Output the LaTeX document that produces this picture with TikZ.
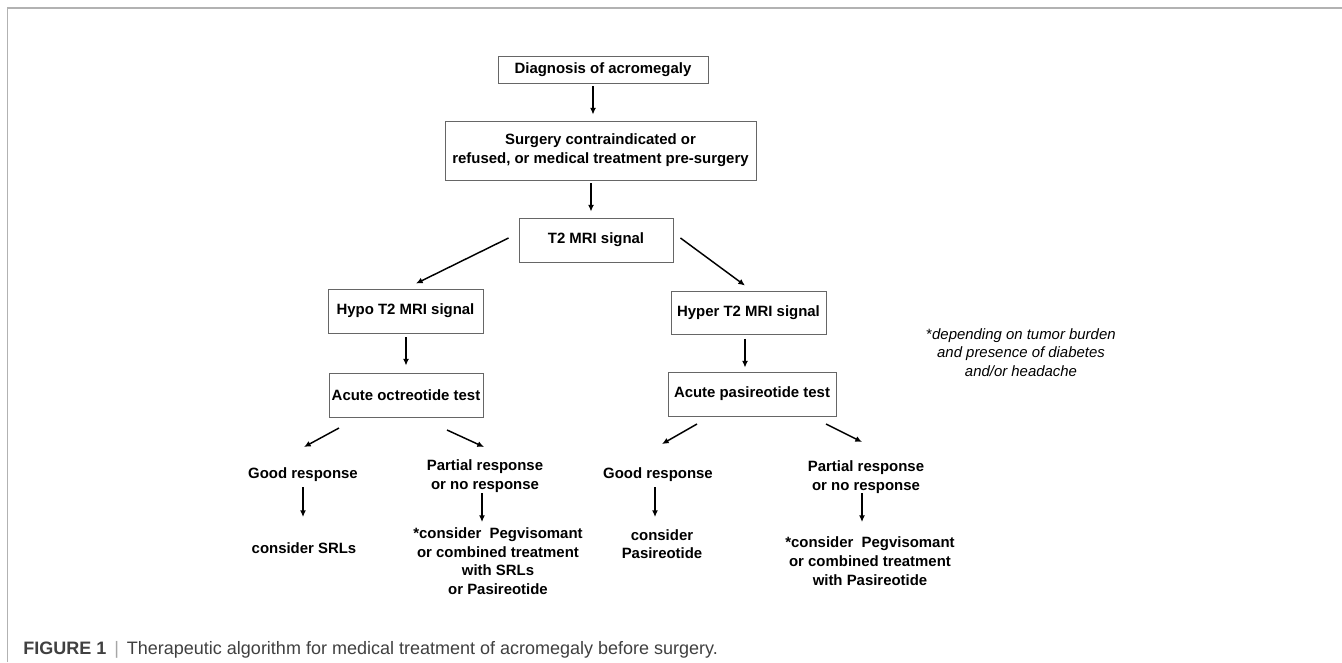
\documentclass[tikz,border=0pt]{standalone}
\usepackage{fontspec}
\setmainfont{Liberation Sans}
\usetikzlibrary{arrows.meta,calc}
\begin{document}
\begin{tikzpicture}[x=0.75pt,y=-0.75pt,
  box/.style={draw=black!60, line width=0.7pt, inner sep=0, align=center,
    font=\fontsize{11.2}{14.2}\selectfont\bfseries, text=black},
  lbl/.style={inner sep=0, align=center, font=\fontsize{11.2}{14}\selectfont\bfseries, text=black},
  note/.style={inner sep=0, align=center, font=\fontsize{11.2}{13.9}\selectfont\itshape, text=black},
  arr/.style={line width=1.1pt, -{Latex[length=5pt,width=4.5pt]}},
  frameline/.style={draw=black!30, line width=1pt}]
\useasboundingbox (0,0) rectangle (1342,662);
\fill[white] (0,0) rectangle (1342,662);
\draw[frameline] (7.5,662) -- (7.5,8) -- (1342,8);

% boxes
\node[box, minimum width=157.5pt, minimum height=20.25pt] (diag) at (603,69.5) {Diagnosis of acromegaly};
\node[box, minimum width=233.25pt, minimum height=44.25pt] (surg) at (600.5,150.5) {Surgery contraindicated or\\refused, or medical treatment pre-surgery};
\node[box, minimum width=115.5pt, minimum height=33pt] (t2) at (596,240) {T2 MRI signal};
\node[box, minimum width=116.25pt, minimum height=33pt] (hypo) at (405.5,311) {Hypo T2 MRI signal};
\node[box, minimum width=115.5pt, minimum height=33pt] (octr) at (406,395) {Acute octreotide test};
\node[box, minimum width=116.25pt, minimum height=32.25pt] (hyper) at (748.5,312.5) {Hyper T2 MRI signal};
\node[box, minimum width=126pt, minimum height=33pt] (pasir) at (752,394) {Acute pasireotide test};

% free labels
\node[lbl] (good1) at (303,475) {Good response};
\node[lbl] (cons1) at (304,548) {consider SRLs};
\node[lbl] (partial1) at (485,476) {Partial response\\or no response};
\node[lbl] (peg1) at (498,561) {*consider~~Pegvisomant\\or combined treatment\\with SRLs\\or Pasireotide};
\node[lbl] (good2) at (658,475) {Good response};
\node[lbl] (cons2) at (662,544) {consider\\Pasireotide};
\node[lbl] (partial2) at (866,477) {Partial response\\or no response};
\node[lbl] (peg2) at (870,561) {*consider~~Pegvisomant\\or combined treatment\\with Pasireotide};

\node[note] (foot) at (1021,352.5) {{\upshape*}depending on tumor burden\\and presence of diabetes\\and/or headache};

% caption
\node[anchor=base west, inner sep=0, font=\fontsize{13.5}{16}\selectfont, text=black!75] (cap) at (23,654)
  {\textbf{FIGURE 1}\hspace{6pt}{\color{black!35}|}\hspace{6pt}Therapeutic algorithm for medical treatment of acromegaly before surgery.};

% connectors
\draw[arr] ($(diag.south)+(-10,3)$) -- ($(surg.north)+(-7.5,-6)$);
\draw[arr] ($(surg.south)+(-9.5,3)$) -- ($(t2.north)+(-5,-6)$);
\draw[arr] ($(t2.west)+(-10,-2)$) -- ($(hypo.north)+(10.5,-5)$);
\draw[arr] ($(t2.east)+(7,-2)$) -- ($(hyper.north)+(-3.5,-5)$);
\draw[arr] ($(hypo.south)+(0.5,4)$) -- ($(octr.north)+(0,-7)$);
\draw[arr] ($(hyper.south)+(-3.5,4.5)$) -- ($(pasir.north)+(-7,-4)$);
\draw[arr] ($(octr.center)+(-67,33)$) -- ($(good1.center)+(1,-28)$);
\draw[arr] ($(octr.center)+(41,35)$) -- ($(partial1.center)+(-1,-29)$);
\draw[arr] ($(good1.center)+(0,12)$) -- ($(cons1.center)+(-1,-31)$);
\draw[arr] ($(partial1.center)+(-3,17)$) -- ($(peg1.center)+(-16,-39)$);
\draw[arr] ($(pasir.center)+(-55,30)$) -- ($(good2.center)+(4,-31)$);
\draw[arr] ($(pasir.center)+(74,30)$) -- ($(partial2.center)+(-4,-35)$);
\draw[arr] ($(good2.center)+(-3,12)$) -- ($(cons2.center)+(-7,-27)$);
\draw[arr] ($(partial2.center)+(-4,16)$) -- ($(peg2.center)+(-8,-39)$);
\end{tikzpicture}
\end{document}
